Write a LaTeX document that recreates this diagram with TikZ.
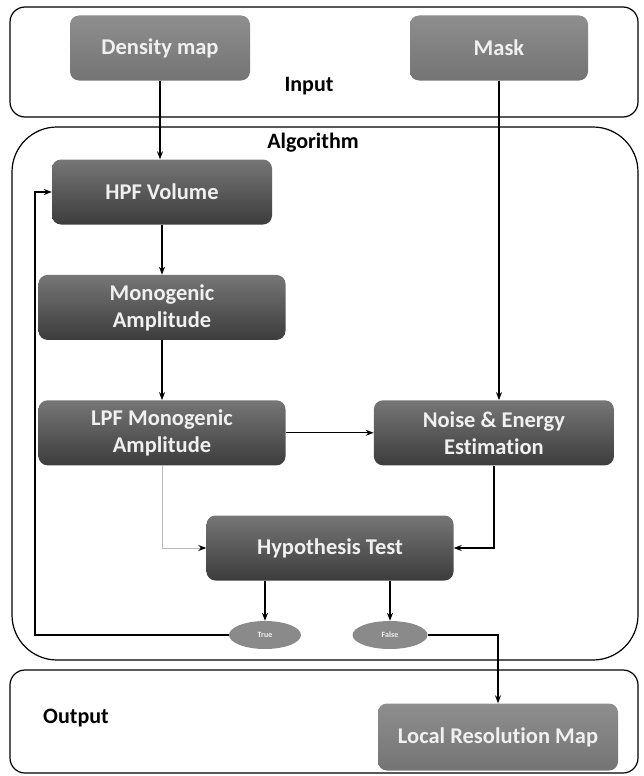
\documentclass[tikz,border=0pt]{standalone}
\usepackage{fontspec}
\setmainfont[Ligatures=NoCommon]{Carlito}
\usetikzlibrary{positioning}
\usetikzlibrary{shapes.geometric}
\usetikzlibrary{arrows.meta}
\definecolor{stagetop}{HTML}{767676}
\definecolor{stagebot}{HTML}{3C3C3C}
\definecolor{iotop}{HTML}{8E8E8E}
\definecolor{iobot}{HTML}{747474}
\definecolor{outfill}{HTML}{8A8A8A}
\tikzstyle{stage} = [rectangle, rounded corners=9pt, top color=stagetop, bottom color=stagebot, draw=none, text=white!94!black, font=\bfseries\fontsize{22.5}{27}\selectfont, align=center, minimum height=65pt, inner sep=2pt]
\tikzstyle{io} = [stage, top color=iotop, bottom color=iobot]
\tikzstyle{outcome} = [ellipse, fill=outfill, text=white!94!black, minimum width=72pt, minimum height=28pt, inner sep=0pt, font=\bfseries\fontsize{8}{9}\selectfont]
\tikzstyle{frame} = [draw=black, line width=1.2pt]
\tikzstyle{caption} = [font=\bfseries\fontsize{22}{26}\selectfont]
\tikzstyle{flow} = [-{Stealth[length=8pt,width=6pt]}, line width=1.2pt]

\begin{document}
\begin{tikzpicture}[x=1pt, y=-1pt]
\useasboundingbox (0,0) rectangle (643,776);

% Frames
\draw[frame, rounded corners=15pt] (10,7) rectangle (638,117);
\draw[frame, rounded corners=45pt] (12,127) rectangle (638,660);
\draw[frame, rounded corners=15pt] (10,670) rectangle (638,773);

\node[caption] (input)  at (309,86)  {Input};
\node[caption] (algo)   at (313,143) {Algorithm};
\node[caption] (output) at (76,718)  {Output};

% Define nodes
\node[io, minimum width=180pt] (dens) at (160,48) {Density map};
\node[io, minimum width=178pt] (mask) at (499,48) {Mask};

\node[stage, minimum width=220pt]           (hpf)   at (162,192) {HPF Volume};
\node[stage, minimum width=247pt, below = 50pt of hpf] (mono) {Monogenic\\Amplitude};
\node[stage, minimum width=247pt, below = 60pt of mono] (lpf) {LPF Monogenic\\Amplitude};
\node[stage, minimum width=240pt, right = 88pt of lpf]  (noise) {Noise \& Energy\\Estimation};
\node[stage, minimum width=247pt] (hyp) at (330,548) {Hypothesis Test};

\node[outcome] (yes) at (265,635) {True};
\node[outcome, minimum width=75pt] (no) at (390,635) {False};

\node[io, minimum width=240pt, minimum height=67pt] (lrm) at (498,737) {Local Resolution Map};

\coordinate (back) at (35,635);

% Edges
\draw[flow] (dens.south) -- (dens.south |- hpf.north);
\draw[flow] (mask.south) -- (mask.south |- noise.north);
\draw[flow] (hpf) -- (mono);
\draw[flow] (mono) -- (lpf);
\draw[flow] (lpf) -- (noise);
\draw[flow, draw=gray!55, line width=0.9pt, -{Stealth[length=8pt,width=6pt,color=black]}] (lpf.south) |- (hyp.west);
\draw[flow] (noise.south) |- (hyp.east);
\draw[flow] (hyp.south -| yes) -- (yes);
\draw[flow] (hyp.south -| no) -- (no);
\draw[flow] (yes.west) -- (back) |- (hpf.west);
\draw[flow] (no.east) -| (lrm.north);
\end{tikzpicture}
\end{document}
